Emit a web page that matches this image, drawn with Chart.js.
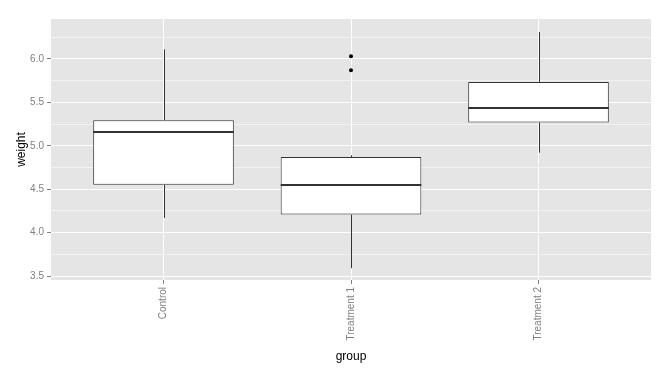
<!DOCTYPE html>
<html><head><meta charset="utf-8">
<script src="https://cdn.jsdelivr.net/npm/chart.js@4/dist/chart.umd.min.js"></script>
<style>html,body{margin:0;padding:0;background:#fff}#wrap{width:671px;height:375px}</style>
</head><body><div id="wrap"><canvas id="c"></canvas></div>
<script>
const categories = ['Control', 'Treatment 1', 'Treatment 2'];
const q1 = [4.55, 4.2075, 5.2675];
const median = [5.155, 4.55, 5.435];
const q3 = [5.2925, 4.87, 5.735];
const whiskerLow = [4.17, 3.59, 4.92];
const whiskerHigh = [6.11, 4.89, 6.31];
const outliers = [{group: 2, value: 5.87}, {group: 2, value: 6.03}];
const yMajorTicks = [3.5, 4.0, 4.5, 5.0, 5.5, 6.0];
const yMinorTicks = [3.75, 4.25, 4.75, 5.25, 5.75, 6.25];
const yRange = [3.454, 6.46];
const xRange = [0.4, 3.6];

const FONT = '"Liberation Sans", Arial, sans-serif';
const isMajor = v => yMajorTicks.some(t => Math.abs(t - v) < 1e-9);

const panelBg = {
  id: 'panelBg',
  beforeDraw(chart) {
    const {ctx, chartArea: a} = chart;
    ctx.save();
    ctx.fillStyle = '#fff';
    ctx.fillRect(0, 0, chart.width, chart.height);
    ctx.fillStyle = '#E5E5E5';
    ctx.fillRect(a.left, a.top, a.right - a.left, a.bottom - a.top);
    ctx.restore();
  }
};

const boxParts = {
  id: 'boxParts',
  afterDatasetsDraw(chart) {
    const {ctx} = chart;
    const xs = chart.scales.x, ys = chart.scales.y;
    const meta = chart.getDatasetMeta(0);
    ctx.save();
    ctx.strokeStyle = '#333333';
    categories.forEach((c, i) => {
      const bar = meta.data[i];
      const cx = xs.getPixelForValue(i + 1);
      const half = bar.width / 2;
      ctx.lineWidth = 1;
      ctx.beginPath();
      ctx.moveTo(Math.round(cx) + 0.5, ys.getPixelForValue(q3[i]));
      ctx.lineTo(Math.round(cx) + 0.5, ys.getPixelForValue(whiskerHigh[i]));
      ctx.moveTo(Math.round(cx) + 0.5, ys.getPixelForValue(q1[i]));
      ctx.lineTo(Math.round(cx) + 0.5, ys.getPixelForValue(whiskerLow[i]));
      ctx.stroke();
      ctx.lineWidth = 2;
      ctx.beginPath();
      const my = Math.round(ys.getPixelForValue(median[i]));
      ctx.moveTo(cx - half, my);
      ctx.lineTo(cx + half, my);
      ctx.stroke();
    });
    ctx.restore();
  }
};

new Chart(document.getElementById('c'), {
  type: 'bar',
  data: {
    datasets: [{
      type: 'bar',
      data: categories.map((c, i) => ({x: i + 1, y: [q1[i], q3[i]]})),
      backgroundColor: '#ffffff',
      borderColor: '#333333',
      borderWidth: 1,
      borderSkipped: false,
      categoryPercentage: 1,
      barPercentage: 0.75,
      order: 2
    }, {
      type: 'scatter',
      data: outliers.map(o => ({x: o.group, y: o.value})),
      backgroundColor: '#000',
      borderColor: '#000',
      pointRadius: 2,
      borderWidth: 0,
      order: 1
    }]
  },
  options: {
    responsive: true,
    maintainAspectRatio: false,
    animation: false,
    events: [],
    layout: {padding: {top: 19, right: 20, bottom: 0, left: 0}},
    plugins: {legend: {display: false}, tooltip: {enabled: false}},
    scales: {
      x: {
        type: 'linear',
        offset: false,
        min: xRange[0], max: xRange[1],
        afterBuildTicks: s => { s.ticks = categories.map((c, i) => ({value: i + 1})); },
        afterFit: s => { s.height = 95; },
        border: {display: false},
        grid: {offset: false, color: '#ffffff', lineWidth: 1, tickLength: 4, tickColor: '#7f7f7f'},
        ticks: {
          autoSkip: false, minRotation: 90, maxRotation: 90, padding: 3,
          color: '#7f7f7f', font: {family: FONT, size: 10},
          callback: v => categories[Math.round(v) - 1] || ''
        },
        title: {display: true, text: 'group', color: '#000', font: {family: FONT, size: 12}, padding: {top: 0, bottom: 11}}
      },
      y: {
        type: 'linear',
        min: yRange[0], max: yRange[1],
        afterBuildTicks: s => {
          s.ticks = yMajorTicks.concat(yMinorTicks).sort((a, b) => a - b).map(v => ({value: v}));
        },
        afterFit: s => { s.width = 51; },
        border: {display: false},
        grid: {
          color: c => isMajor(c.tick.value) ? '#ffffff' : '#F2F2F2',
          lineWidth: 1, tickLength: 4,
          tickColor: c => isMajor(c.tick.value) ? '#7f7f7f' : 'rgba(0,0,0,0)'
        },
        ticks: {
          padding: 3, color: '#7f7f7f', font: {family: FONT, size: 10},
          callback: v => isMajor(v) ? v.toFixed(1) : ''
        },
        title: {display: true, text: 'weight', color: '#000', font: {family: FONT, size: 12}, padding: {top: 14, bottom: 0}}
      }
    }
  },
  plugins: [panelBg, boxParts]
});
</script></body></html>
